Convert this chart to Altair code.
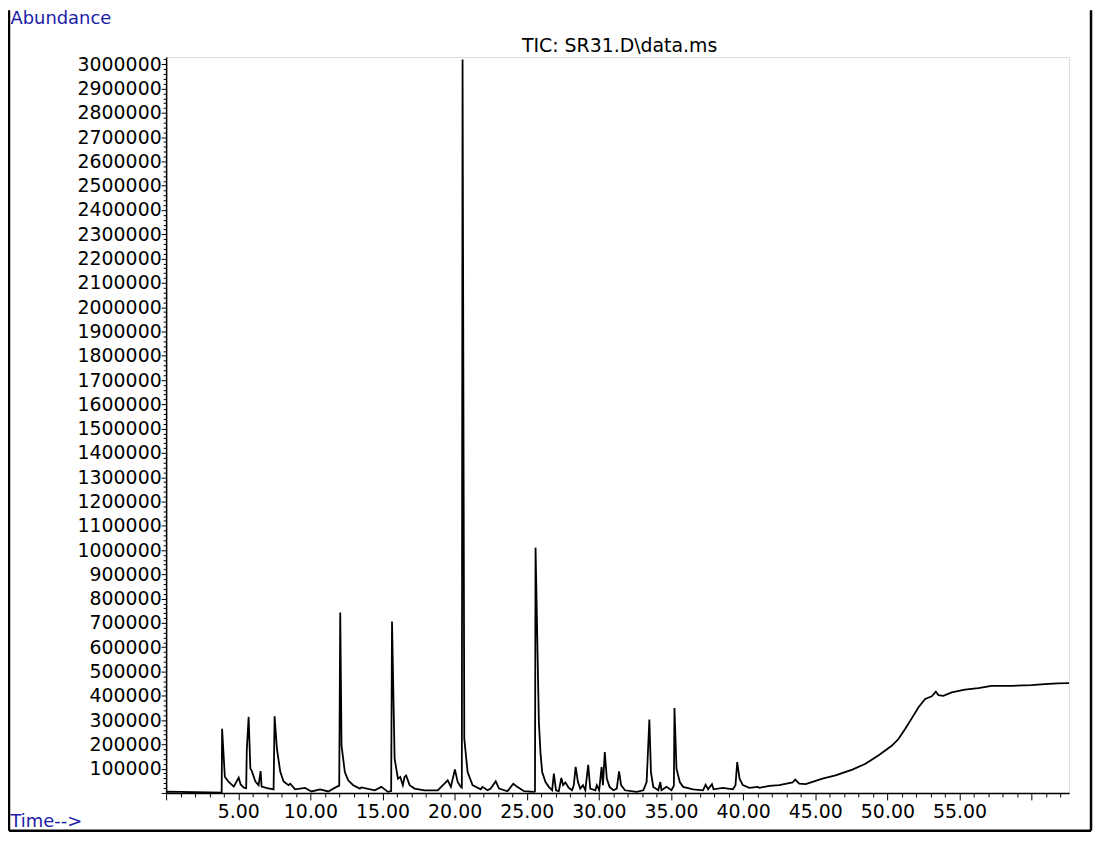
import altair as alt
import pandas as pd

# Retention time (min) and abundance
times = [
    0.00, 1.00, 2.00, 3.00, 3.85,
    3.88, 4.07, 4.34, 4.69, 5.03, 5.17, 5.38, 5.55,
    5.59, 5.72, 5.84, 5.93, 6.19, 6.41, 6.55, 6.62, 7.00, 7.45,
    7.52, 7.68, 7.91, 8.14, 8.48, 8.60, 8.94, 9.63, 10.07, 10.67, 11.24, 11.81, 12.00,
    12.07, 12.16, 12.39, 12.62, 12.97, 13.43, 13.54, 14.46, 14.92, 15.38, 15.60,
    15.66, 15.84, 16.07, 16.23, 16.41, 16.53, 16.64, 16.88, 17.22, 17.91, 18.83,
    19.52, 19.74, 20.02, 20.21, 20.43, 20.50,
    20.55, 20.67, 20.90, 21.24, 21.81, 21.93, 22.28, 22.50, 22.85, 23.08, 23.66,
    24.07, 24.34, 24.81, 25.50, 25.57,
    25.61, 25.84, 25.95, 26.07, 26.30, 26.53, 26.76, 26.88, 27.03, 27.22, 27.40,
    27.52, 27.68, 27.91, 28.14, 28.26, 28.39, 28.55, 28.71, 28.90, 29.06, 29.26,
    29.40, 29.75, 29.86, 30.02, 30.19, 30.28, 30.41, 30.55, 30.74, 31.01, 31.24,
    31.40, 31.54, 31.81, 32.62, 33.08, 33.31, 33.50, 33.61, 33.77, 34.12, 34.26,
    34.34, 34.69, 35.03, 35.20, 35.24, 35.38, 35.61, 35.84, 36.53, 37.22, 37.40,
    37.57, 37.84, 37.95, 38.60, 39.29, 39.47, 39.59, 39.75, 39.98, 40.43, 41.01,
    41.12, 41.81, 42.50, 43.43, 43.61, 43.89, 44.34, 45.50, 46.41, 47.57, 48.48,
    49.40, 50.32, 50.78, 51.24, 51.70, 52.16, 52.62, 53.08, 53.36, 53.54, 53.88,
    54.46, 55.38, 56.30, 57.22, 58.60, 59.98, 60.90, 61.81, 62.60,
]
abundance = [
    5000, 4000, 3000, 2000, 1000,
    264000, 67000, 45000, 26000, 63000, 35000, 22000, 20000,
    174000, 313000, 100000, 92000, 47000, 32000, 90000, 26000, 20000, 15000,
    316000, 182000, 88000, 47000, 32000, 38000, 15000, 21000, 6000, 15000, 6000, 25000, 30000,
    743000, 195000, 86000, 52000, 32000, 18000, 23000, 11000, 25000, 4500, 8000,
    706000, 141000, 59000, 66000, 32000, 66000, 72000, 32000, 18000, 11000, 11000,
    52000, 25000, 97000, 45000, 25000, 22000,
    3020000, 223000, 86000, 32000, 15000, 25000, 11000, 18000, 48000, 18000, 7000,
    38000, 25000, 7000, 4500, 6000,
    1010000, 291000, 168000, 86000, 45000, 25000, 11000, 80000, 11000, 7000, 62000,
    32000, 43000, 21000, 11000, 32000, 107000, 45000, 18000, 32000, 11000, 116000,
    18000, 11000, 32000, 11000, 107000, 32000, 168000, 59000, 25000, 11000, 18000,
    89000, 32000, 11000, 4500, 11000, 45000, 302000, 86000, 25000, 11000, 45000,
    11000, 25000, 11000, 30000, 350000, 100000, 45000, 25000, 15000, 11000, 34000,
    15000, 36000, 15000, 21000, 15000, 32000, 127000, 59000, 32000, 21000, 25000,
    21000, 29000, 32000, 43000, 55000, 38000, 36000, 59000, 72000, 96000, 120000,
    155000, 195000, 223000, 264000, 308000, 353000, 387000, 398000, 417000, 403000, 400000,
    414000, 425000, 432000, 441000, 441000, 444000, 448000, 451000, 452000,
]

x_tick_values = list(range(0, 63))
y_tick_values = list(range(0, 3020001, 20000))

title_text = "TIC: SR31.D\\data.ms"
x_title = "Time-->"
y_title = "Abundance"

FONT = "DejaVu Sans"
BLUE = "#1c1ca8"

df = pd.DataFrame({"time": times, "abundance": abundance})
one = pd.DataFrame({"k": [0]})

line = alt.Chart(df).mark_line(color="black", strokeWidth=1.8, clip=True).encode(
    x=alt.X(
        "time:Q",
        scale=alt.Scale(domain=[0, 62.6], nice=False, zero=False),
        axis=alt.Axis(
            values=x_tick_values,
            labelExpr="(datum.value % 5 === 0 && datum.value > 0 && datum.value < 60) ? format(datum.value, '.2f') : ''",
            tickSize={"condition": {"test": "datum.value % 5 === 0", "value": 7}, "value": 4},
            labelOverlap=False,
            labelFlush=False,
            labelPadding=3,
            labelFont=FONT,
            labelFontSize=19,
            labelColor="black",
            tickColor="black",
            domainColor="black",
            domainWidth=1.5,
            grid=False,
            title=x_title,
            titleFont=FONT,
            titleFontSize=18,
            titleFontWeight="normal",
            titleColor=BLUE,
            titleAngle=0,
            titleAlign="left",
            titleBaseline="top",
            titleX=-157,
            titleY=20,
        ),
    ),
    y=alt.Y(
        "abundance:Q",
        scale=alt.Scale(domain=[0, 3030000], nice=False),
        axis=alt.Axis(
            values=y_tick_values,
            labelExpr="(datum.value % 100000 === 0 && datum.value > 0) ? format(datum.value, 'd') : ''",
            tickSize={"condition": {"test": "datum.value % 100000 === 0", "value": 5}, "value": 3},
            labelOverlap=False,
            labelFlush=False,
            labelPadding=0,
            labelFont=FONT,
            labelFontSize=19,
            labelColor="black",
            tickColor="black",
            domainColor="black",
            domainWidth=1.5,
            grid=False,
            title=y_title,
            titleFont=FONT,
            titleFontSize=18,
            titleFontWeight="normal",
            titleColor=BLUE,
            titleAngle=0,
            titleAlign="left",
            titleBaseline="top",
            titleX=-157,
            titleY=-48,
        ),
    ),
)

# outer frame: left, right and bottom borders
left_border = alt.Chart(one).mark_rule(color="black", strokeWidth=2.5).encode(
    x=alt.value(-158), y=alt.value(-47), y2=alt.value(778)
)
right_border = alt.Chart(one).mark_rule(color="black", strokeWidth=2.5).encode(
    x=alt.value(930), y=alt.value(-47), y2=alt.value(778)
)
bottom_border = alt.Chart(one).mark_rule(color="black", strokeWidth=2.5).encode(
    x=alt.value(-158), x2=alt.value(930), y=alt.value(778)
)

title_mark = alt.Chart(one).mark_text(
    text=title_text,
    font=FONT,
    fontSize=19,
    color="black",
    align="center",
    baseline="bottom",
).encode(x=alt.value(456), y=alt.value(-1))

chart = alt.layer(left_border, right_border, bottom_border, title_mark, line).properties(
    width=908,
    height=740,
    autosize=alt.AutoSizeParams(type="none"),
    padding={"left": 159, "top": 47, "right": 24, "bottom": 40},
).configure_view(stroke=None).configure(background="white")

chart.save("out.html", embed_options={"renderer": "svg", "actions": False})
